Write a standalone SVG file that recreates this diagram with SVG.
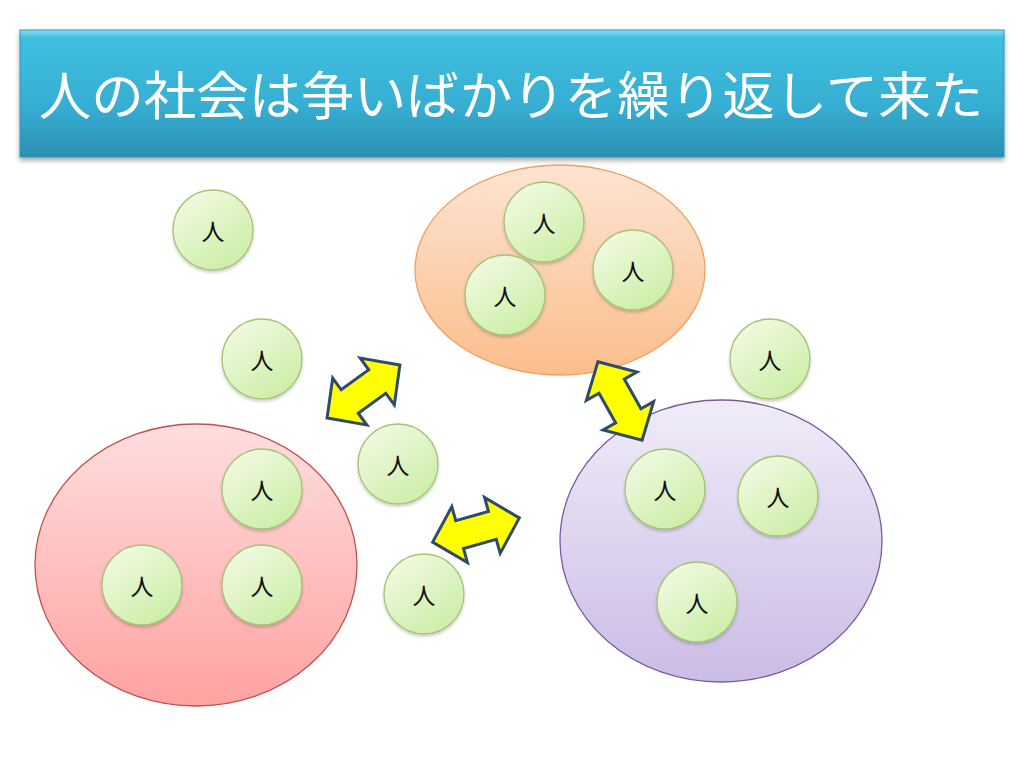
<svg xmlns="http://www.w3.org/2000/svg" width="1024" height="768" viewBox="0 0 1024 768">
<defs>
<linearGradient id="gTitle" x1="0" y1="0" x2="0" y2="1">
<stop offset="0" stop-color="#8fdcf0"/>
<stop offset="0.06" stop-color="#3fbfe0"/>
<stop offset="0.6" stop-color="#36aed2"/>
<stop offset="1" stop-color="#2a8fb2"/>
</linearGradient>
<linearGradient id="gNode" x1="0" y1="0" x2="0.7" y2="1">
<stop offset="0" stop-color="#f4fce8"/>
<stop offset="1" stop-color="#cdeea8"/>
</linearGradient>
<linearGradient id="gOrange" x1="0" y1="0" x2="0" y2="1">
<stop offset="0" stop-color="#fde4d2"/>
<stop offset="1" stop-color="#fbbe8c"/>
</linearGradient>
<linearGradient id="gRed" x1="0" y1="0" x2="0" y2="1">
<stop offset="0" stop-color="#ffdede"/>
<stop offset="1" stop-color="#ffa2a2"/>
</linearGradient>
<linearGradient id="gPurple" x1="0" y1="0" x2="0" y2="1">
<stop offset="0" stop-color="#f0ecf8"/>
<stop offset="1" stop-color="#cbbce6"/>
</linearGradient>
<filter id="shadow" x="-10%" y="-10%" width="120%" height="130%">
<feDropShadow dx="0" dy="3" stdDeviation="2.5" flood-color="#000" flood-opacity="0.35"/>
</filter>
<filter id="sshadow" x="-10%" y="-10%" width="120%" height="130%">
<feDropShadow dx="0" dy="2" stdDeviation="1.5" flood-color="#000" flood-opacity="0.2"/>
</filter>
<path id="arrow" d="M -45 0 L -17 -29 L -17 -14.5 L 17 -14.5 L 17 -29 L 45 0 L 17 29 L 17 14.5 L -17 14.5 L -17 29 Z"/>
</defs>
<style>
.node circle { fill: url(#gNode); stroke: #a6c276; stroke-width: 1.3; filter: url(#sshadow); }
.node text { font-family: "Noto Sans CJK JP", sans-serif; font-size: 23px; fill: #111; text-anchor: middle; dominant-baseline: central; }
.arr use { fill: #ffff00; stroke: #2f4a6a; stroke-width: 3; stroke-linejoin: miter; }
</style>
<rect width="1024" height="768" fill="#ffffff"/>

<g id="title">
<rect x="20" y="30" width="984" height="127" fill="url(#gTitle)" stroke="#2e96b8" stroke-width="1" filter="url(#shadow)"/>
<text x="511" y="92" text-anchor="middle" font-family="Noto Sans CJK JP, sans-serif" font-size="52.5" fill="#ffffff" dominant-baseline="central">人の社会は争いばかりを繰り返して来た</text>
</g>

<g id="group-orange">
<ellipse cx="560" cy="270" rx="145" ry="105" fill="url(#gOrange)" stroke="#f0a060" stroke-width="1.3"/>
</g>
<g id="group-red">
<ellipse cx="196" cy="565" rx="161" ry="141" fill="url(#gRed)" stroke="#c0504d" stroke-width="1.3"/>
</g>
<g id="group-purple">
<ellipse cx="721" cy="541" rx="161" ry="141" fill="url(#gPurple)" stroke="#7a5c9e" stroke-width="1.3"/>
</g>

<g id="connectors" class="arr">
<use href="#arrow" transform="translate(363.5 391.5) rotate(-36)"/>
<use href="#arrow" transform="translate(476 530) rotate(-15.6)"/>
<use href="#arrow" transform="translate(620 401) rotate(60.6)"/>
</g>

<g id="n1" class="node"><circle cx="213" cy="230" r="40"/><text x="213" y="230">人</text></g>
<g id="n2" class="node"><circle cx="262" cy="359" r="40"/><text x="262" y="359">人</text></g>
<g id="n3" class="node"><circle cx="398" cy="464" r="40"/><text x="398" y="464">人</text></g>
<g id="n4" class="node"><circle cx="262" cy="489" r="40"/><text x="262" y="489">人</text></g>
<g id="n5" class="node"><circle cx="142" cy="585" r="40"/><text x="142" y="585">人</text></g>
<g id="n6" class="node"><circle cx="262" cy="585" r="40"/><text x="262" y="585">人</text></g>
<g id="n7" class="node"><circle cx="424" cy="594" r="40"/><text x="424" y="594">人</text></g>
<g id="n8" class="node"><circle cx="544" cy="222" r="40"/><text x="544" y="222">人</text></g>
<g id="n9" class="node"><circle cx="505" cy="295" r="40"/><text x="505" y="295">人</text></g>
<g id="n10" class="node"><circle cx="633" cy="270" r="40"/><text x="633" y="270">人</text></g>
<g id="n11" class="node"><circle cx="770" cy="359" r="40"/><text x="770" y="359">人</text></g>
<g id="n12" class="node"><circle cx="665" cy="489" r="40"/><text x="665" y="489">人</text></g>
<g id="n13" class="node"><circle cx="778" cy="496" r="40"/><text x="778" y="496">人</text></g>
<g id="n14" class="node"><circle cx="697" cy="602" r="40"/><text x="697" y="602">人</text></g>
</svg>
